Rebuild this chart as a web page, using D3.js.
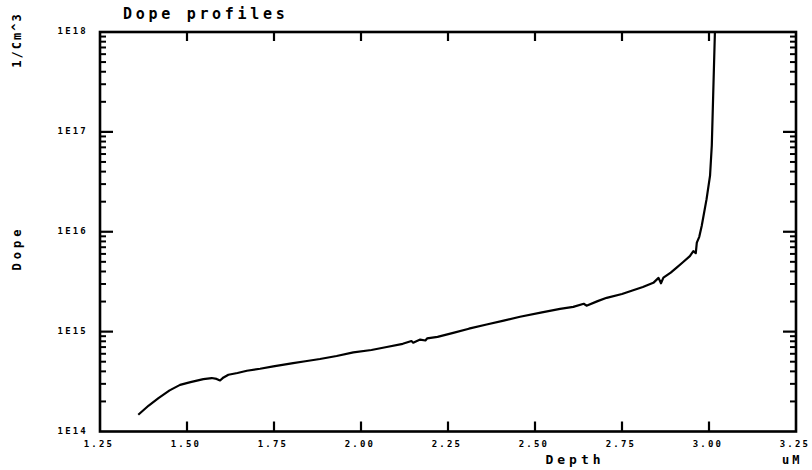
<!DOCTYPE html>
<html>
<head>
<meta charset="utf-8">
<script src="https://cdn.jsdelivr.net/npm/d3@7"></script>
</head>
<body style="margin:0;background:#fff">
<svg id="chart" width="812" height="470"></svg>
<script>
// ---- data ----
const depth = [1.360, 1.390, 1.418, 1.450, 1.480, 1.510, 1.547, 1.571, 1.585, 1.595, 1.605, 1.619, 1.645, 1.672, 1.710, 1.748,
  1.805, 1.840, 1.882, 1.930, 1.978, 2.030, 2.074, 2.120, 2.145, 2.150, 2.170, 2.185, 2.190, 2.220, 2.265, 2.310, 2.361, 2.410,
  2.457, 2.520, 2.572, 2.610, 2.640, 2.648, 2.680, 2.706, 2.750, 2.782, 2.810, 2.840, 2.855, 2.862, 2.869, 2.890, 2.907, 2.925, 2.945,
  2.955, 2.962, 2.965, 2.972, 2.979, 2.993, 3.003, 3.008, 3.012, 3.017];
const dope = [1.47e14, 1.82e14, 2.16e14, 2.58e14, 2.93e14, 3.12e14, 3.35e14, 3.43e14, 3.36e14, 3.24e14, 3.48e14, 3.70e14, 3.85e14, 4.06e14, 4.25e14, 4.48e14,
  4.84e14, 5.05e14, 5.32e14, 5.70e14, 6.20e14, 6.55e14, 7.02e14, 7.55e14, 8.05e14, 7.75e14, 8.32e14, 8.15e14, 8.55e14, 8.85e14, 9.71e14, 1.07e15, 1.18e15, 1.29e15,
  1.41e15, 1.56e15, 1.69e15, 1.77e15, 1.90e15, 1.82e15, 2.02e15, 2.18e15, 2.38e15, 2.60e15, 2.80e15, 3.08e15, 3.45e15, 3.05e15, 3.47e15, 3.90e15, 4.37e15, 4.95e15, 5.71e15,
  6.40e15, 6.10e15, 7.78e15, 8.90e15, 1.14e16, 2.12e16, 3.64e16, 7.28e16, 2.32e17, 1.0e18];

const xTicks = [1.25, 1.50, 1.75, 2.00, 2.25, 2.50, 2.75, 3.00, 3.25];
const xTickLabels = ["1.25", "1.50", "1.75", "2.00", "2.25", "2.50", "2.75", "3.00", "3.25"];
const yTicks = [1e14, 1e15, 1e16, 1e17, 1e18];
const yTickLabels = ["1E14", "1E15", "1E16", "1E17", "1E18"];
const yMinorTicks = [];
[1e14, 1e15, 1e16, 1e17].forEach(d => { for (let m = 2; m <= 9; m++) yMinorTicks.push(d * m); });

// ---- layout ----
const L = 100, R = 796, T = 32, B = 431.5;
const FONT = "DejaVu Sans Mono, monospace";
const svg = d3.select("#chart");
const xs = d3.scaleLinear().domain([1.25, 3.25]).range([L, R]);
const ys = d3.scaleLog().domain([1e14, 1e18]).range([B, T]);

// frame
svg.append("rect").attr("x", L).attr("y", T).attr("width", R - L).attr("height", B - T)
  .attr("fill", "none").attr("stroke", "#000").attr("stroke-width", 2.6);

const innerX = xTicks.slice(1, -1);
const majorInner = yTicks.slice(1, -1);

// bottom ticks (pointing up)
svg.append("g").attr("stroke", "#000").attr("stroke-width", 2.2)
  .selectAll("line").data(innerX).join("line")
  .attr("x1", d => xs(d)).attr("x2", d => xs(d)).attr("y1", B).attr("y2", B - 10);
// top ticks (pointing down)
svg.append("g").attr("stroke", "#000").attr("stroke-width", 2.2)
  .selectAll("line").data(innerX).join("line")
  .attr("x1", d => xs(d)).attr("x2", d => xs(d)).attr("y1", T).attr("y2", T + 9);
// left major / minor
svg.append("g").attr("stroke", "#000").attr("stroke-width", 2.2)
  .selectAll("line").data(majorInner).join("line")
  .attr("x1", L).attr("x2", L + 13).attr("y1", d => ys(d)).attr("y2", d => ys(d));
svg.append("g").attr("stroke", "#000").attr("stroke-width", 2)
  .selectAll("line").data(yMinorTicks).join("line")
  .attr("x1", L).attr("x2", L + 6).attr("y1", d => ys(d)).attr("y2", d => ys(d));
// right major / minor
svg.append("g").attr("stroke", "#000").attr("stroke-width", 2.2)
  .selectAll("line").data(majorInner).join("line")
  .attr("x1", R).attr("x2", R - 13).attr("y1", d => ys(d)).attr("y2", d => ys(d));
svg.append("g").attr("stroke", "#000").attr("stroke-width", 2)
  .selectAll("line").data(yMinorTicks).join("line")
  .attr("x1", R).attr("x2", R - 6).attr("y1", d => ys(d)).attr("y2", d => ys(d));

// tick labels
svg.append("g").attr("font-family", FONT).attr("font-weight", "bold").attr("font-size", 9)
  .selectAll("text").data(xTicks).join("text")
  .attr("x", d => xs(d) - 1).attr("y", B + 15).attr("text-anchor", "middle")
  .style("letter-spacing", "2.2px")
  .text((d, i) => xTickLabels[i]);
svg.append("g").attr("font-family", FONT).attr("font-weight", "bold").attr("font-size", 9)
  .selectAll("text").data(yTicks).join("text")
  .attr("x", 88).attr("y", d => ys(d) + 2).attr("text-anchor", "end")
  .style("letter-spacing", "2.2px")
  .text((d, i) => yTickLabels[i]);

// data line
const line = d3.line().x((d, i) => xs(depth[i])).y((d, i) => ys(dope[i]));
svg.append("path").datum(dope)
  .attr("fill", "none").attr("stroke", "#000").attr("stroke-width", 2.2)
  .attr("stroke-linejoin", "round")
  .attr("d", line);

// titles and labels
const lab = svg.append("g").attr("font-family", FONT).attr("font-weight", "bold").attr("fill", "#000");
lab.append("text").attr("x", 123).attr("y", 19).attr("font-size", 15)
  .style("letter-spacing", "3.7px").text("Dope profiles");
lab.append("text").attr("x", 575).attr("y", 464).attr("text-anchor", "middle").attr("font-size", 13)
  .style("letter-spacing", "4px").text("Depth");
lab.append("text").attr("x", 782).attr("y", 464).attr("font-size", 12)
  .style("letter-spacing", "3px").text("uM");
lab.append("text").attr("transform", "translate(21,40) rotate(-90)").attr("text-anchor", "middle").attr("font-size", 12)
  .style("letter-spacing", "2px").text("1/Cm^3");
lab.append("text").attr("transform", "translate(21,248) rotate(-90)").attr("text-anchor", "middle").attr("font-size", 12)
  .style("letter-spacing", "4px").text("Dope");
</script>
</body>
</html>
